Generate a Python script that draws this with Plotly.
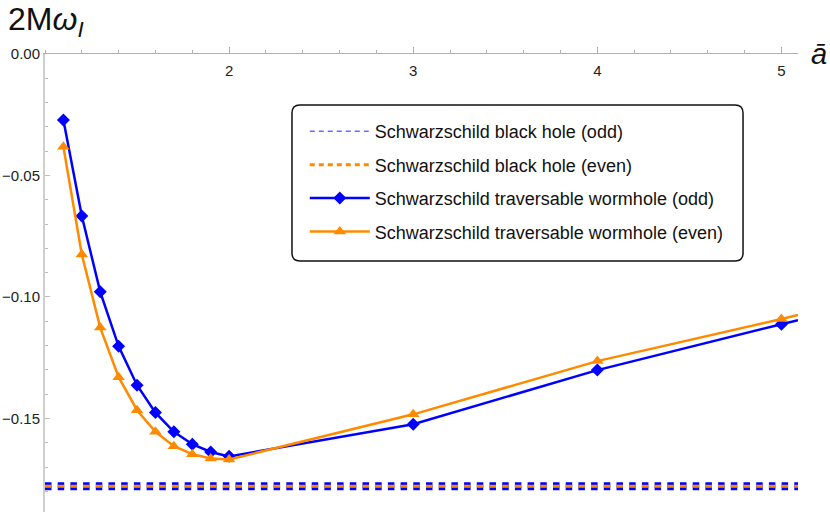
import plotly.graph_objects as go

# a-bar values of the wormhole points
a_vals = [1.1, 1.2, 1.3, 1.4, 1.5, 1.6, 1.7, 1.8, 1.9, 2.0, 3.0, 4.0, 5.0]
# 2M*omega_I
wh_odd = [-0.0272, -0.0667, -0.0979, -0.1203, -0.1363, -0.1476, -0.1555,
          -0.1606, -0.1638, -0.1656, -0.1524, -0.1301, -0.1112]
wh_even = [-0.0382, -0.0825, -0.1126, -0.1330, -0.1466, -0.1555, -0.1614,
           -0.1647, -0.1665, -0.1669, -0.1483, -0.1264, -0.1091]
# curve continues past the last point up to the frame edge
edge_a = [5.0, 5.09]
edge_odd = [-0.1112, -0.1096]
edge_even = [-0.1091, -0.1074]

# Schwarzschild black hole (l=2 fundamental), same for odd and even
bh_a = [1.0, 5.09]
bh_odd = [-0.1779, -0.1779]
bh_even = [-0.1779, -0.1779]

x_ticks = [2, 3, 4, 5]
x_range = [1.0, 5.09]
y_ticks = [0.0, -0.05, -0.10, -0.15]
y_labels = ["0.00", "−0.05", "−0.10", "−0.15"]

BLUE = "#0000ff"
ORANGE = "#ff8a00"
FONT = "Liberation Sans, Arial, sans-serif"

fig = go.Figure()

# black hole lines (thick in the plot, thin sample in the legend)
fig.add_trace(go.Scatter(x=bh_a, y=bh_odd, mode="lines", showlegend=False,
                         line=dict(color=BLUE, width=8, dash="6.5px,6.2px")))
fig.add_trace(go.Scatter(x=bh_a, y=bh_even, mode="lines", showlegend=False,
                         line=dict(color=ORANGE, width=3, dash="6.5px,6.2px")))
fig.add_trace(go.Scatter(x=[None], y=[None], mode="lines", legendgroup="a",
                         name="Schwarzschild black hole (odd)",
                         line=dict(color="#6a6aff", width=1.5, dash="5px,4px")))
fig.add_trace(go.Scatter(x=[None], y=[None], mode="lines", legendgroup="b",
                         name="Schwarzschild black hole (even)",
                         line=dict(color=ORANGE, width=3, dash="5px,4px")))

# wormhole curves (the short edge pieces live on x2 so that axis gets drawn)
fig.add_trace(go.Scatter(x=edge_a, y=edge_odd, mode="lines", showlegend=False,
                         xaxis="x2", line=dict(color=BLUE, width=2.5)))
fig.add_trace(go.Scatter(x=edge_a, y=edge_even, mode="lines", showlegend=False,
                         xaxis="x2", line=dict(color=ORANGE, width=2.5)))
fig.add_trace(go.Scatter(x=a_vals, y=wh_odd, mode="lines+markers", legendgroup="c",
                         name="Schwarzschild traversable wormhole (odd)",
                         line=dict(color=BLUE, width=2.5),
                         marker=dict(symbol="diamond", size=10, color=BLUE)))
fig.add_trace(go.Scatter(x=a_vals, y=wh_even, mode="lines+markers", legendgroup="d",
                         name="Schwarzschild traversable wormhole (even)",
                         line=dict(color=ORANGE, width=2.5),
                         marker=dict(symbol="triangle-up", size=11, color=ORANGE)))

# rounded legend frame
x0, x1, y0, y1 = 0.328, 0.927, 0.548, 0.8886
rx, ry = 0.0106, 0.0175
frame = (f"M{x0+rx},{y1} L{x1-rx},{y1} Q{x1},{y1} {x1},{y1-ry} "
         f"L{x1},{y0+ry} Q{x1},{y0} {x1-rx},{y0} L{x0+rx},{y0} "
         f"Q{x0},{y0} {x0},{y0+ry} L{x0},{y1-ry} Q{x0},{y1} {x0+rx},{y1} Z")

fig.update_layout(
    width=830, height=512,
    margin=dict(l=45, r=32, t=54, b=0),
    paper_bgcolor="white", plot_bgcolor="white",
    font=dict(family=FONT, size=15, color="#222"),
    showlegend=True,
    legend=dict(x=0.345, y=0.871, xanchor="left", yanchor="top",
                bgcolor="rgba(0,0,0,0)", font=dict(size=18, color="#111"),
                traceorder="grouped", tracegroupgap=7, itemwidth=60),
    shapes=[dict(type="path", path=frame, xref="paper", yref="paper",
                 line=dict(color="#111", width=1.5), fillcolor="white", layer="below")],
    annotations=[
        dict(text="2M<i>ω</i><sub><i>I</i></sub>", xref="paper", yref="paper",
             x=-0.052, y=1.072, xanchor="left", yanchor="middle", showarrow=False,
             font=dict(size=32, color="#111")),
        dict(text="<i>ā</i>", xref="paper", yref="paper",
             x=1.028, y=1.0, xanchor="center", yanchor="middle", showarrow=False,
             font=dict(size=29, color="#111")),
    ],
    # x axis line and ticks at y = 0 (top), labels drawn by a second axis below it
    xaxis=dict(
        range=x_range, side="top", showgrid=False, zeroline=False, automargin=False,
        showline=True, linecolor="#b0b0b0", linewidth=1,
        tickvals=x_ticks, ticks="outside", ticklen=6, tickcolor="#b0b0b0",
        showticklabels=False,
        minor=dict(dtick=0.2, tick0=0, ticks="outside", ticklen=3.5, tickcolor="#b0b0b0"),
    ),
    xaxis2=dict(
        range=x_range, overlaying="x", anchor="free", position=1.0, side="bottom",
        showgrid=False, zeroline=False, showline=False, automargin=False,
        tickvals=x_ticks, ticks="outside", ticklen=3, tickcolor="rgba(0,0,0,0)",
        tickfont=dict(size=15, color="#222"),
    ),
    yaxis=dict(
        range=[-0.1885, 0.0], showgrid=False, zeroline=False, automargin=False,
        showline=True, linecolor="#cfcfcf", linewidth=2,
        tickvals=y_ticks, ticktext=y_labels, ticks="inside", ticklen=5,
        tickcolor="#bdbdbd",
        minor=dict(dtick=0.01, tick0=0, ticks="inside", ticklen=3, tickcolor="#bdbdbd"),
    ),
)

fig.write_html("out.html", config={"displayModeBar": False},
               post_script="document.body.style.margin='0';")
